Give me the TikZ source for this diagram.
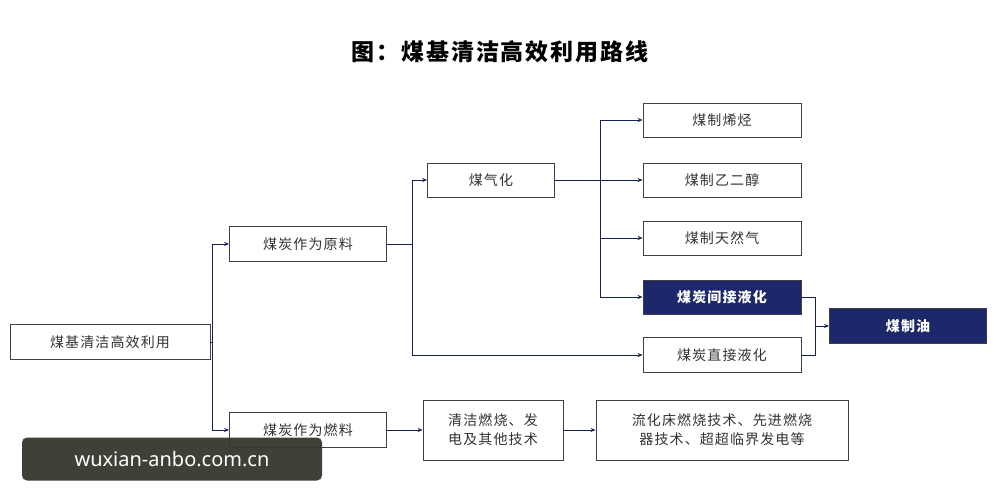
\documentclass[tikz,border=0pt]{standalone}
\usepackage{fontspec}
\setmainfont{Noto Sans CJK SC}[LetterSpace=8]
\newfontfamily\wmfont{Noto Sans}
\usetikzlibrary{arrows.meta}
\definecolor{navy}{RGB}{28,40,105}
\definecolor{wmc}{RGB}{52,56,44}
\begin{document}
\begin{tikzpicture}[x=1pt,y=-1pt,
 box/.style={draw=black!75,line width=0.8pt,fill=white,inner sep=0pt,font=\fontsize{14}{19}\selectfont,text=black!80},
 dark/.style={draw=black!75,line width=0.8pt,fill=navy,inner sep=0pt,font=\bfseries\fontsize{14}{17}\selectfont,text=white},
 con/.style={draw=navy!80!black,line width=0.8pt,-{Stealth[length=5pt,width=4pt]}},
 ln/.style={draw=navy!80!black,line width=0.8pt}]
\useasboundingbox (0,0) rectangle (1000,500);
\fill[white] (0,0) rectangle (1000,500);
\node[font=\bfseries\fontsize{23}{26}\selectfont] (title) at (500,52) {图：煤基清洁高效利用路线};
\node[box,minimum width=200pt,minimum height=35pt] (A) at (110,342) {煤基清洁高效利用};
\node[box,minimum width=157pt,minimum height=35pt] (B) at (308,244) {煤炭作为原料};
\node[box,minimum width=157pt,minimum height=35pt] (C) at (308,430) {煤炭作为燃料};
\node[box,minimum width=127pt,minimum height=34pt] (D) at (491,180) {煤气化};
\node[box,minimum width=158pt,minimum height=34pt] (E1) at (722,120) {煤制烯烃};
\node[box,minimum width=158pt,minimum height=34pt] (E2) at (722,180) {煤制乙二醇};
\node[box,minimum width=158pt,minimum height=34pt] (E3) at (722,238) {煤制天然气};
\node[dark,minimum width=158pt,minimum height=34pt] (E4) at (722,297) {煤炭间接液化};
\node[box,minimum width=158pt,minimum height=35pt] (E5) at (722,355) {煤炭直接液化};
\node[dark,minimum width=157pt,minimum height=35pt] (F) at (908,326) {煤制油};
\node[box,minimum width=140pt,minimum height=60pt,align=center] (G) at (493,430) {清洁燃烧、发\\电及其他技术};
\node[box,minimum width=252pt,minimum height=60pt,align=center] (H) at (722,430) {流化床燃烧技术、先进燃烧\\器技术、超超临界发电等};
\coordinate (a1) at (212,244); \coordinate (a2) at (212,430);
\draw[ln] (A.east) -- (212,342);
\draw[ln] (a1) -- (a2);
\draw[con] (a1) -- (B.west); \draw[con] (a2) -- (C.west);
\coordinate (b1) at (412,180); \coordinate (b2) at (412,355);
\draw[ln] (B.east) -- (412,244); \draw[ln] (b1) -- (b2);
\draw[con] (b1) -- (D.west); \draw[con] (b2) -- (E5.west);
\coordinate (d1) at (600,120); \coordinate (d4) at (600,297);
\draw[ln] (D.east) -- (600,180); \draw[ln] (d1) -- (d4);
\draw[con] (d1) -- (E1.west); \draw[con] (600,180) -- (E2.west);
\draw[con] (600,238) -- (E3.west); \draw[con] (d4) -- (E4.west);
\coordinate (f1) at (815,297); \coordinate (f2) at (815,355);
\draw[ln] (E4.east) -- (f1) -- (f2) -- (E5.east);
\draw[con] (815,326) -- (F.west);
\draw[con] (C.east) -- (G.west); \draw[con] (G.east) -- (H.west);
\node[fill=wmc,fill opacity=0.95,text opacity=1,rounded corners=5pt,minimum width=300pt,minimum height=43pt,text=white,font=\wmfont\fontsize{20}{22}\selectfont] (wm) at (172,459) {wuxian-anbo.com.cn};
\end{tikzpicture}
\end{document}
